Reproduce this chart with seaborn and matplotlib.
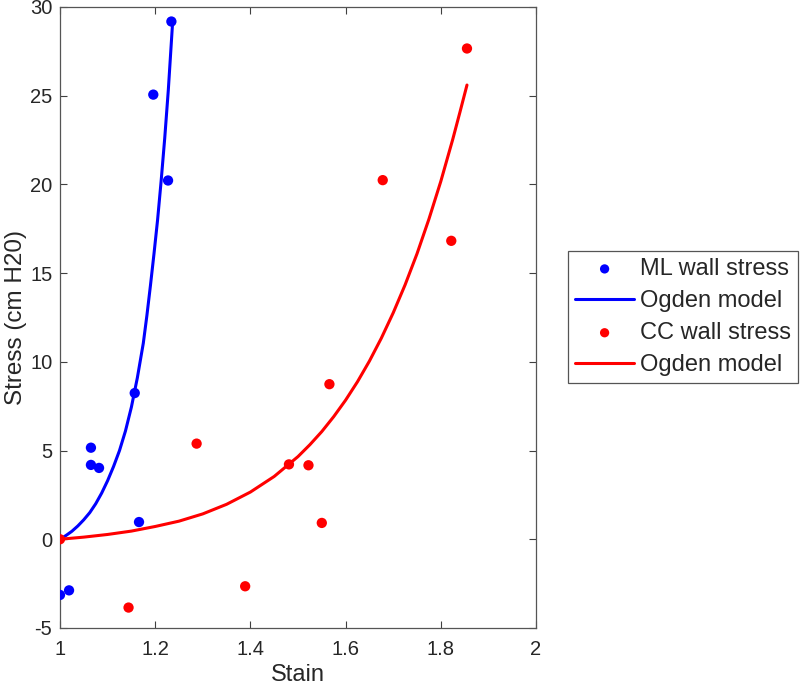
import matplotlib
matplotlib.use("Agg")
import matplotlib.pyplot as plt
import seaborn as sns
import pandas as pd
from matplotlib.ticker import FormatStrFormatter

# measured points
ml_strain = [1.000, 1.019, 1.065, 1.065, 1.082, 1.157, 1.166, 1.196, 1.227, 1.234]
ml_stress = [-3.14, -2.88, 5.16, 4.19, 4.02, 8.24, 0.97, 25.06, 20.22, 29.18]

cc_strain = [1.000, 1.144, 1.287, 1.389, 1.481, 1.522, 1.550, 1.566, 1.678, 1.822, 1.855]
cc_stress = [0.00, -3.85, 5.39, -2.65, 4.22, 4.17, 0.92, 8.74, 20.24, 16.82, 27.66]

# Ogden fits
ml_fit_strain = [1.000, 1.0125, 1.025, 1.0375, 1.050, 1.0625, 1.075, 1.0875, 1.100, 1.1125,
                 1.125, 1.1375, 1.150, 1.1625, 1.175, 1.1825, 1.190, 1.1975, 1.205, 1.2125,
                 1.220, 1.2275, 1.2365]
ml_fit_stress = [0.00, 0.21, 0.45, 0.75, 1.10, 1.50, 2.00, 2.60, 3.30, 4.10,
                 5.00, 6.10, 7.45, 9.10, 11.05, 12.60, 14.30, 16.10, 18.00, 20.20,
                 22.60, 25.30, 29.10]

cc_fit_strain = [1.00, 1.05, 1.10, 1.15, 1.20, 1.25, 1.30, 1.35, 1.40, 1.45, 1.50, 1.525,
                 1.55, 1.575, 1.60, 1.625, 1.65, 1.675, 1.70, 1.725, 1.75, 1.775, 1.80,
                 1.825, 1.84, 1.855]
cc_fit_stress = [0.00, 0.12, 0.27, 0.46, 0.72, 1.02, 1.43, 1.97, 2.66, 3.54, 4.66, 5.33,
                 6.07, 6.91, 7.84, 8.88, 10.04, 11.33, 12.76, 14.34, 16.09, 18.04, 20.17,
                 22.53, 24.05, 25.60]

sns.set_style("ticks")
plt.rcParams["font.family"] = ["Liberation Sans", "DejaVu Sans"]
plt.rcParams["axes.unicode_minus"] = False

fig = plt.figure(figsize=(8, 6.9), dpi=100)
ax = fig.add_axes([0.075, 0.0899, 0.595, 0.90])

ml = pd.DataFrame({"strain": ml_strain, "stress": ml_stress})
cc = pd.DataFrame({"strain": cc_strain, "stress": cc_stress})
ml_fit = pd.DataFrame({"strain": ml_fit_strain, "stress": ml_fit_stress})
cc_fit = pd.DataFrame({"strain": cc_fit_strain, "stress": cc_fit_stress})

sns.scatterplot(data=ml, x="strain", y="stress", color="#0000ff", s=55,
                edgecolor="none", ax=ax, label="ML wall stress", zorder=3)
sns.lineplot(data=ml_fit, x="strain", y="stress", color="#0000ff", lw=2.2,
             ax=ax, label="Ogden model", sort=False, zorder=2)
sns.scatterplot(data=cc, x="strain", y="stress", color="#ff0000", s=55,
                edgecolor="none", ax=ax, label="CC wall stress", zorder=3)
sns.lineplot(data=cc_fit, x="strain", y="stress", color="#ff0000", lw=2.2,
             ax=ax, label="Ogden model", sort=False, zorder=2)

ax.set_xlim(1, 2)
ax.set_ylim(-5, 30)
ax.set_xticks([1, 1.2, 1.4, 1.6, 1.8, 2])
ax.set_yticks([-5, 0, 5, 10, 15, 20, 25, 30])
ax.xaxis.set_major_formatter(FormatStrFormatter("%g"))
ax.set_xlabel("Stain", fontsize=17, color="#262626", labelpad=3)
ax.set_ylabel("Stress (cm H20)", fontsize=17.5, color="#262626", labelpad=2)
ax.tick_params(direction="in", top=True, right=True, length=5, width=0.8,
               labelsize=14.5, colors="#404040", labelcolor="#262626")
ax.tick_params(axis="x", pad=9)
ax.tick_params(axis="y", pad=5.5)
for sp in ax.spines.values():
    sp.set_color("#555555")
    sp.set_linewidth(0.9)

handles, labels = ax.get_legend_handles_labels()
ax.get_legend().remove()
leg = fig.legend(handles, labels, loc="center left", bbox_to_anchor=(0.71, 0.5406),
                 fontsize=17, frameon=True, fancybox=False, handlelength=2.5,
                 labelspacing=0.42, handletextpad=0.25, borderpad=0.3,
                 markerscale=0.9, borderaxespad=0)
leg.get_frame().set_edgecolor("#555555")
leg.get_frame().set_linewidth(0.9)
leg.get_frame().set_alpha(1)

fig.savefig("out.png", dpi=100, facecolor="white")
